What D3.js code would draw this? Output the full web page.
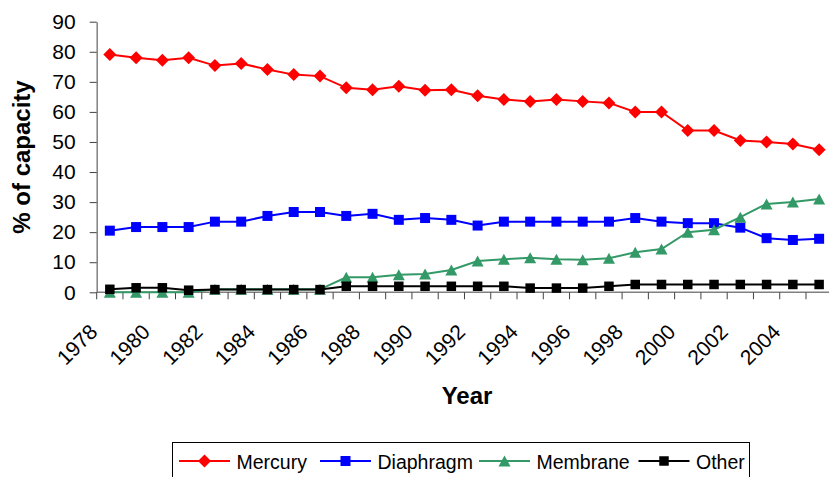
<!DOCTYPE html>
<html><head><meta charset="utf-8">
<script src="https://cdn.jsdelivr.net/npm/d3@7"></script>
<style>body{margin:0;background:#fff}svg{display:block}text{font-family:"Liberation Sans",Arial,sans-serif}</style>
</head><body>
<svg id="c" width="829" height="477"></svg>
<script>
const years = [1978,1979,1980,1981,1982,1983,1984,1985,1986,1987,1988,1989,1990,1991,1992,1993,1994,1995,1996,1997,1998,1999,2000,2001,2002,2003,2004,2005];
const tickYears = [1978,1980,1982,1984,1986,1988,1990,1992,1994,1996,1998,2000,2002,2004];
const yTicks = [0,10,20,30,40,50,60,70,80,90];
const mercury = [79.1,78.0,77.2,78.0,75.4,76.1,74.1,72.4,71.9,68.0,67.4,68.5,67.2,67.4,65.4,64.1,63.5,64.1,63.5,63.0,60.0,60.0,53.8,53.8,50.5,50.0,49.3,47.4];
const diaphragm = [20.5,21.7,21.7,21.7,23.5,23.5,25.4,26.7,26.7,25.4,26.1,24.1,24.7,24.1,22.2,23.5,23.5,23.5,23.5,23.5,24.7,23.5,23.0,23.0,21.5,18.0,17.4,17.8];
const membrane = [0,0,0,0,1,1,1,1,1,5.0,5.0,5.8,6.1,7.4,10.4,11.0,11.5,11.0,10.8,11.3,13.3,14.4,20.0,20.8,25.0,29.4,30.0,31.0];
const other = [1.0,1.5,1.5,0.7,0.9,0.9,0.9,0.9,0.9,2.0,2.0,2.0,2.0,2.0,2.0,2.0,1.4,1.4,1.4,2.0,2.6,2.6,2.6,2.6,2.6,2.6,2.6,2.6];
const seriesNames = ["Mercury","Diaphragm","Membrane","Other"];
const seriesColors = ["#FF0000","#0000FF","#339966","#000000"];
const seriesShapes = ["diamond","square","triangle","square"];

const series = seriesNames.map((n,i)=>({name:n,color:seriesColors[i],shape:seriesShapes[i],values:[mercury,diaphragm,membrane,other][i]}));

const svg = d3.select("#c");
const x0 = 96.7, bw = 26.27;
const x = d3.scaleBand().domain(years).range([x0, x0 + bw*years.length]).paddingInner(0).paddingOuter(0);
const y = d3.scaleLinear().domain([0,90]).range([292.3, 21.7]);

function shapePath(shape, cx, cy, s){
  if(shape==="diamond"){const r=6.5*s;return `M${cx},${cy-r}L${cx+r},${cy}L${cx},${cy+r}L${cx-r},${cy}Z`;}
  if(shape==="square"){const r=5*s;return `M${cx-r},${cy-r}h${2*r}v${2*r}h${-2*r}Z`;}
  const w=6*s,h=5.5*s;return `M${cx},${cy-h}L${cx+w},${cy+h}L${cx-w},${cy+h}Z`;
}

// axes
const gy = svg.append("g").attr("transform",`translate(${x0},0)`)
  .call(d3.axisLeft(y).tickValues(yTicks).tickSize(7).tickPadding(14).tickSizeOuter(0));
gy.select(".domain").attr("stroke","#808080").attr("stroke-width",1.5);
gy.selectAll(".tick line").attr("stroke","#404040");
gy.selectAll(".tick text").attr("font-size",21).attr("fill","#000").attr("font-family","Liberation Sans, Arial");

const gx = svg.append("g").attr("transform",`translate(0,${y(0)})`);
gx.append("line").attr("x1",x0).attr("x2",x0+bw*years.length).attr("stroke","#808080").attr("stroke-width",1.5);
const bounds = years.map(d=>x(d)).concat([x0+bw*years.length]);
gx.selectAll(".xt").data(bounds).join("line").attr("class","xt")
  .attr("x1",d=>d).attr("x2",d=>d).attr("y1",0).attr("y2",7).attr("stroke","#404040");
gx.selectAll(".xl").data(tickYears).join("text").attr("class","xl")
  .attr("transform",d=>`translate(${x(d)+x.bandwidth()/2-11},${41}) rotate(-45)`)
  .attr("text-anchor","end").attr("font-size",21).text(d=>d);

// lines
const line = d3.line().x((d,i)=>x(years[i])+x.bandwidth()/2).y(d=>y(d));
series.forEach(s=>{
  const g = svg.append("g");
  g.append("path").attr("d",line(s.values)).attr("fill","none").attr("stroke",s.color).attr("stroke-width",2);
  g.selectAll("path.m").data(s.values).join("path").attr("class","m")
    .attr("d",(d,i)=>shapePath(s.shape, x(years[i])+x.bandwidth()/2, y(d), s.name==="Other"?0.95:1))
    .attr("fill",s.color);
});

// titles
svg.append("text").attr("x",467).attr("y",404).attr("text-anchor","middle")
  .attr("font-size",24).attr("font-weight","bold").text("Year");
svg.append("text").attr("transform","translate(30,157) rotate(-90)").attr("text-anchor","middle")
  .attr("font-size",24).attr("font-weight","bold").text("% of capacity");

// legend
const lg = svg.append("g");
lg.append("rect").attr("x",172.5).attr("y",442.5).attr("width",577).attr("height",40).attr("fill","#fff").attr("stroke","#000").attr("stroke-width",1);
const legX = [179,320,479,638.5];
series.forEach((s,i)=>{
  const lx = legX[i];
  lg.append("line").attr("x1",lx).attr("x2",lx+51).attr("y1",461).attr("y2",461).attr("stroke",s.color).attr("stroke-width",2);
  lg.append("path").attr("d",shapePath(s.shape,lx+25.5,461,s.name==="Other"?0.95:1)).attr("fill",s.color);
  lg.append("text").attr("x",lx+57.5).attr("y",468.5).attr("font-size",19.5).text(s.name);
});
</script>
</body></html>
